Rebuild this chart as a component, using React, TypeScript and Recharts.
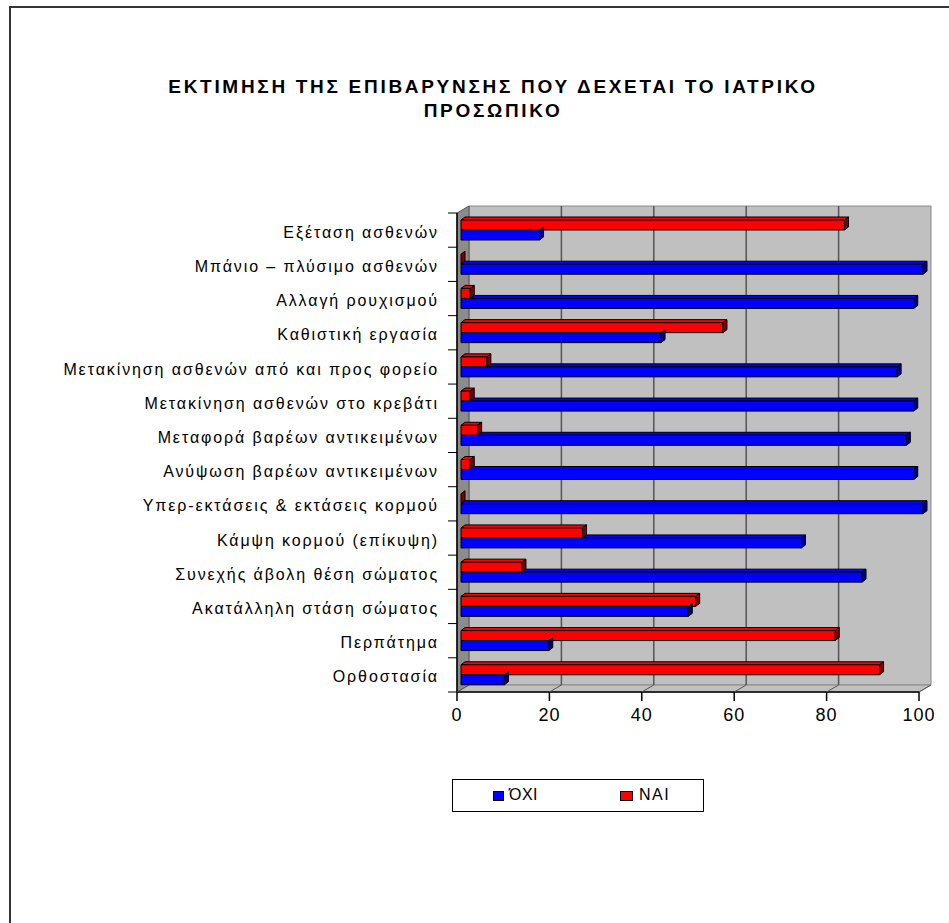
import React from 'react'
import { BarChart, Bar, XAxis, YAxis, ReferenceArea, ReferenceLine } from 'recharts'

const categories = [
  'Εξέταση ασθενών',
  'Μπάνιο – πλύσιμο ασθενών',
  'Αλλαγή ρουχισμού',
  'Καθιστική εργασία',
  'Μετακίνηση ασθενών από και προς φορείο',
  'Μετακίνηση ασθενών στο κρεβάτι',
  'Μεταφορά βαρέων αντικειμένων',
  'Ανύψωση βαρέων αντικειμένων',
  'Υπερ-εκτάσεις & εκτάσεις κορμού',
  'Κάμψη κορμού (επίκυψη)',
  'Συνεχής άβολη θέση σώματος',
  'Ακατάλληλη στάση σώματος',
  'Περπάτημα',
  'Ορθοστασία',
]

const oxiValues = [17, 100, 98, 43.3, 94.4, 98, 96.4, 98, 100, 73.7, 86.8, 49.2, 19, 9.4]
const naiValues = [83, 0, 2, 56.7, 5.6, 2, 3.6, 2, 0, 26.3, 13.2, 50.8, 81, 90.6]

const xTicks = [0, 20, 40, 60, 80, 100]
const seriesLabels = ['ΌΧΙ', 'ΝΑΙ']

const data = categories.map((name, i) => ({ name, oxi: oxiValues[i], nai: naiValues[i] }))

const FONT = '"Liberation Sans", Arial, sans-serif'

// 3D offsets: front axis sits a bit left of the bars, back wall up and to the right
const AXIS_DX = 4
const WALL_DX = 8
const WALL_DY = 7
const BAR_DX = 4
const BAR_DY = 3

const RED = '#ff0000'
const RED_SIDE = '#800000'
const BLUE = '#0000ff'
const BLUE_SIDE = '#000080'

type BoxProps = { x: number; y: number; w: number; h: number; topFrom: number; front: string; side: string }

function Box3D({ x, y, w, h, topFrom, front, side }: BoxProps) {
  const right = x + w
  return (
    <g stroke="#000" strokeWidth={1} strokeLinejoin="round">
      {topFrom < w && (
        <polygon
          points={`${x + topFrom},${y} ${right},${y} ${right + BAR_DX},${y - BAR_DY} ${x + topFrom + BAR_DX},${y - BAR_DY}`}
          fill={front}
        />
      )}
      {w > 0 && <rect x={x} y={y} width={w} height={h} fill={front} />}
      <polygon
        points={`${right},${y} ${right + BAR_DX},${y - BAR_DY} ${right + BAR_DX},${y + h - BAR_DY} ${right},${y + h}`}
        fill={side}
      />
    </g>
  )
}

const NaiShape = (props: any) => {
  const { x, y, width, height } = props
  return <Box3D x={x} y={y} w={width || 0} h={height} topFrom={0} front={RED} side={RED_SIDE} />
}

// the blue bar's top face is hidden under the red bar where the red one reaches
const OxiShape = (props: any) => {
  const { x, y, width, height, payload } = props
  const w = width || 0
  const covered = payload.oxi > 0 ? (w * payload.nai) / payload.oxi : 0
  return <Box3D x={x} y={y} w={w} h={height} topFrom={covered} front={BLUE} side={BLUE_SIDE} />
}

const Frame = (props: any) => {
  const { x, y, width, height } = props
  const fx = x - AXIS_DX
  const bx = x + WALL_DX
  const bottom = y + height
  const step = height / categories.length
  return (
    <g>
      <polygon
        points={`${bx},${y - WALL_DY} ${bx + width},${y - WALL_DY} ${bx + width},${bottom - WALL_DY} ${bx},${bottom - WALL_DY}`}
        fill="#c0c0c0"
        stroke="#8a8a8a"
      />
      <polygon
        points={`${fx},${y} ${bx},${y - WALL_DY} ${bx},${bottom - WALL_DY} ${fx},${bottom}`}
        fill="#8c8c8c"
        stroke="#555"
      />
      <polygon
        points={`${fx},${bottom} ${fx + width},${bottom} ${bx + width},${bottom - WALL_DY} ${bx},${bottom - WALL_DY}`}
        fill="#c0c0c0"
        stroke="#8a8a8a"
      />
      <line x1={fx} y1={y} x2={fx} y2={bottom} stroke="#000" strokeWidth={1.5} />
      <line x1={fx} y1={bottom} x2={fx + width} y2={bottom} stroke="#000" strokeWidth={1.5} />
      {categories.map((_, i) => (
        <line key={i} x1={fx - 9} y1={y + i * step} x2={fx} y2={y + i * step} stroke="#000" />
      ))}
      <line x1={fx - 9} y1={bottom} x2={fx} y2={bottom} stroke="#000" />
    </g>
  )
}

const GridLine = (props: any) => {
  const { x1, y1, y2, inner } = props
  const top = Math.min(y1, y2)
  const bottom = Math.max(y1, y2)
  const bx = x1 + WALL_DX
  const fx = x1 - AXIS_DX
  return (
    <g>
      {inner && <line x1={bx} y1={top - WALL_DY} x2={bx} y2={bottom - WALL_DY} stroke="#555" strokeWidth={1.5} />}
      <line x1={fx} y1={bottom} x2={bx} y2={bottom - WALL_DY} stroke="#555" />
      <line x1={fx} y1={bottom} x2={fx} y2={bottom + 9} stroke="#000" strokeWidth={1.5} />
    </g>
  )
}

const XTick = ({ x, y, payload }: any) => (
  <text x={x - AXIS_DX} y={y + 29} textAnchor="middle" fontSize={18} fontFamily={FONT} fill="#000" letterSpacing={1}>
    {payload.value}
  </text>
)

const YTick = ({ x, y, payload }: any) => (
  <text x={x} y={y + 2} dy="0.35em" textAnchor="end" fontSize={16} fontFamily={FONT} fill="#000" letterSpacing={1.9}>
    {payload.value}
  </text>
)

export default function App() {
  return (
    <div style={{ position: 'absolute', left: 0, top: 0, width: 949, height: 923, overflow: 'hidden', background: '#fff', fontFamily: FONT }}>
      <div style={{ position: 'absolute', left: 9, top: 6, width: 1000, height: 1000, borderLeft: '2px solid #333', borderTop: '2px solid #333' }} />

      <div style={{ position: 'absolute', left: 93, top: 75, width: 800, textAlign: 'center', fontWeight: 'bold', fontSize: 19, lineHeight: '24px', letterSpacing: 2.7, color: '#000' }}>
        <div>ΕΚΤΙΜΗΣΗ ΤΗΣ ΕΠΙΒΑΡΥΝΣΗΣ ΠΟΥ ΔΕΧΕΤΑΙ ΤΟ ΙΑΤΡΙΚΟ</div>
        <div>ΠΡΟΣΩΠΙΚΟ</div>
      </div>

      <div style={{ position: 'absolute', left: 0, top: 0 }}>
        <BarChart
          width={949}
          height={923}
          layout="vertical"
          data={data}
          margin={{ top: 213, right: 26, bottom: 201, left: 11 }}
          barSize={10}
          barGap={0}
        >
          <XAxis type="number" domain={[0, 100]} ticks={xTicks} height={30} axisLine={false} tickLine={false} tickSize={0} tickMargin={0} tick={<XTick />} />
          <YAxis type="category" dataKey="name" width={450} axisLine={false} tickLine={false} tickSize={0} tickMargin={22} interval={0} tick={<YTick />} />
          <ReferenceArea x1={0} x2={100} shape={<Frame />} zIndex={-30} isFront={false} />
          {xTicks.map(v => (
            <ReferenceLine key={v} x={v} shape={<GridLine inner={v > 0 && v < 100} />} zIndex={-20} />
          ))}
          <Bar dataKey="nai" name={seriesLabels[1]} shape={<NaiShape />} isAnimationActive={false} />
          <Bar dataKey="oxi" name={seriesLabels[0]} shape={<OxiShape />} isAnimationActive={false} />
        </BarChart>
      </div>

      <div style={{ position: 'absolute', left: 452, top: 779, width: 250, height: 31, border: '1px solid #000', fontSize: 16, color: '#000' }}>
        <div style={{ position: 'absolute', left: 40, top: 11, width: 9, height: 8, background: BLUE, border: '1px solid #000' }} />
        <div style={{ position: 'absolute', left: 56, top: 6, lineHeight: '18px', letterSpacing: 0.5 }}>{seriesLabels[0]}</div>
        <div style={{ position: 'absolute', left: 167, top: 11, width: 11, height: 8, background: RED, border: '1px solid #000' }} />
        <div style={{ position: 'absolute', left: 186, top: 6, lineHeight: '18px', letterSpacing: 1.5 }}>{seriesLabels[1]}</div>
      </div>
    </div>
  )
}
